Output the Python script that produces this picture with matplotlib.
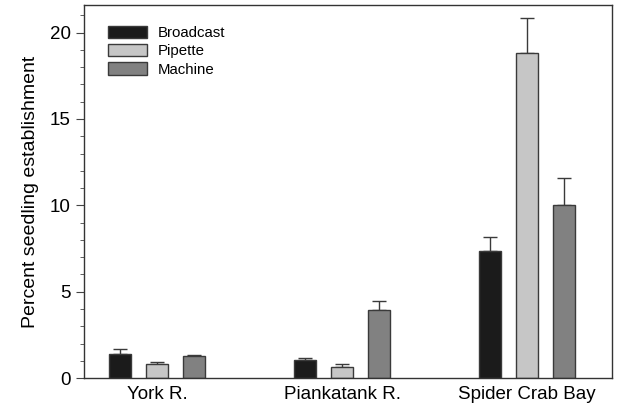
import numpy as np
import matplotlib
matplotlib.use("Agg")
import matplotlib.pyplot as plt
from matplotlib.ticker import MultipleLocator

sites = ["York R.", "Piankatank R.", "Spider Crab Bay"]
methods = ["Broadcast", "Pipette", "Machine"]
broadcast = [1.39, 1.02, 7.36]
broadcast_err = [0.30, 0.17, 0.79]
pipette = [0.84, 0.67, 18.79]
pipette_err = [0.08, 0.17, 2.05]
machine = [1.27, 3.93, 10.03]
machine_err = [0.09, 0.54, 1.53]

means = [broadcast, pipette, machine]
errs = [broadcast_err, pipette_err, machine_err]
colors = ["#1b1b1b", "#c6c6c6", "#818181"]

plt.rcParams['font.family'] = ['Liberation Sans', 'DejaVu Sans']
fig = plt.figure(figsize=(6.2, 4.11), dpi=100)
ax = fig.add_axes([0.1355, 0.080, 0.852, 0.908])

x = np.arange(len(sites))
step, w = 0.2, 0.12
for i, (m, e, c, lab) in enumerate(zip(means, errs, colors, methods)):
    xi = x + (i - 1) * step
    ax.bar(xi, m, w, color=c, edgecolor="#3a3a3a", linewidth=1.0, label=lab, zorder=2)
    ax.errorbar(xi, m, yerr=[np.zeros(len(m)), e], fmt="none", ecolor="#3a3a3a",
                elinewidth=1.0, capsize=5, capthick=1.0, zorder=1)

ax.set_xlim(-0.395, 2.46)
ax.set_ylim(0, 21.6)
ax.set_xticks(x)
ax.set_xticklabels(sites, fontsize=13.5)
ax.tick_params(axis="x", length=0, pad=6)
ax.yaxis.set_major_locator(MultipleLocator(5))
ax.yaxis.set_minor_locator(MultipleLocator(1))
ax.tick_params(axis="y", which="major", length=6, labelsize=13.5, color="#444444")
ax.tick_params(axis="y", which="minor", length=3, color="#444444")
ax.set_ylabel("Percent seedling establishment", fontsize=14, labelpad=8)
for s in ax.spines.values():
    s.set_linewidth(1.0)
    s.set_color("#333333")

ax.legend(loc="upper left", bbox_to_anchor=(0.02, 0.98), frameon=False, fontsize=10.8,
          handlelength=2.6, handleheight=0.9, labelspacing=0.25, handletextpad=0.7)

fig.savefig("out.png", dpi=100)
